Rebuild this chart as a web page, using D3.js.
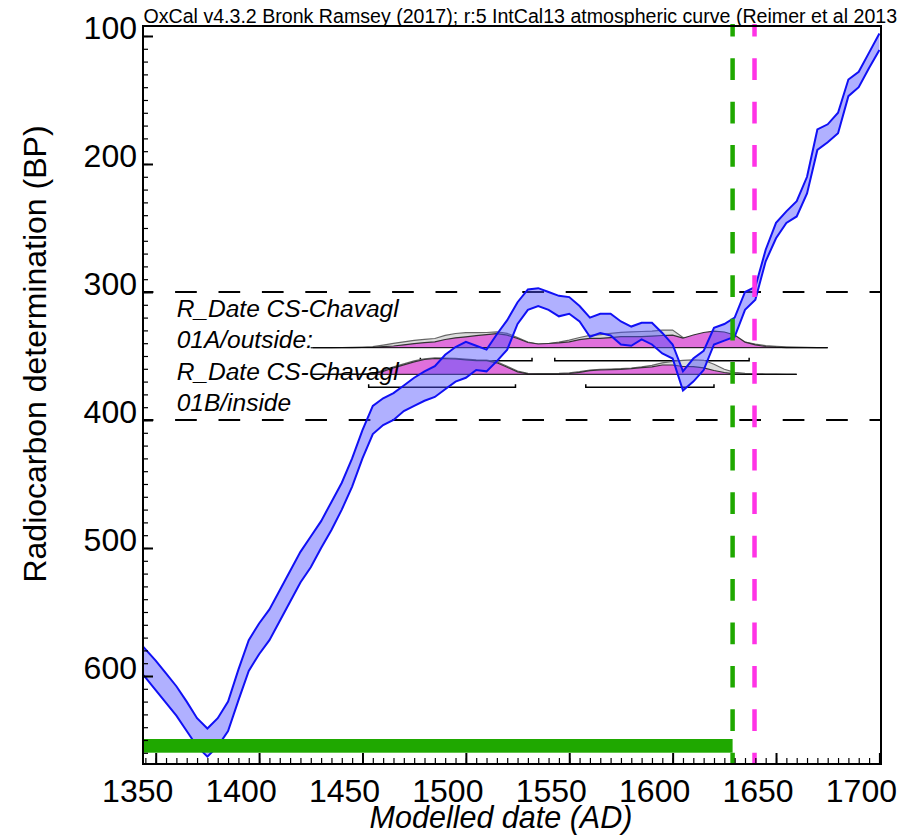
<!DOCTYPE html>
<html>
<head>
<meta charset="utf-8">
<script src="https://cdn.jsdelivr.net/npm/d3@7"></script>
<style>
  body { margin: 0; background: #fff; }
  text { font-family: "Liberation Sans", Arial, sans-serif; }
</style>
</head>
<body>
<div id="chart"></div>
<script>
// calibration curve (IntCal13), BP at 1-sigma edges
var curveYears = [1340, 1345, 1350, 1355, 1360, 1365, 1370, 1375, 1380, 1385, 1390, 1395, 1400,
  1405, 1410, 1415, 1420, 1425, 1430, 1435, 1440, 1445, 1450, 1455, 1460, 1465, 1470, 1475, 1480,
  1485, 1490, 1495, 1500, 1505, 1510, 1515, 1520, 1525, 1530, 1535, 1540, 1545, 1550, 1555, 1560,
  1565, 1570, 1575, 1580, 1585, 1590, 1595, 1600, 1605, 1610, 1615, 1620, 1625, 1630, 1635, 1640,
  1645, 1650, 1655, 1660, 1665, 1670, 1675, 1680, 1685, 1690, 1695, 1700];
var curveLow = [570, 579, 588, 598, 608, 620, 633, 641, 633, 620, 595, 572, 559,
  548, 533, 518, 503, 491, 479, 464, 449, 430, 408, 389, 383, 379, 373, 367, 362,
  358, 349, 343, 339, 342, 345, 333, 322, 308, 298, 297, 300, 303, 304, 311, 320,
  317, 317, 323, 327, 324, 324, 332, 341, 362, 352, 346, 328, 325, 320, 300, 296,
  267, 246, 237, 229, 210, 173, 169, 160, 134, 128, 113, 98];
var curveHigh = [592, 601, 611, 621, 631, 643, 655, 663, 655, 643, 619, 596, 583,
  572, 557, 542, 527, 515, 500, 486, 470, 452, 430, 411, 404, 400, 393, 389, 385,
  382, 376, 370, 367, 361, 362, 354, 345, 325, 314, 311, 314, 319, 317, 323, 335,
  332, 334, 341, 342, 337, 341, 348, 352, 377, 370, 361, 341, 338, 335, 314, 306,
  276, 258, 246, 241, 223, 189, 183, 176, 147, 140, 125, 111];

// probability distributions (relative probability)
var distYears = [1425, 1430, 1435, 1440, 1445, 1450, 1455, 1460, 1465, 1470, 1475, 1480,
  1485, 1490, 1495, 1500, 1505, 1510, 1515, 1520, 1525, 1530, 1535, 1540, 1545, 1550,
  1555, 1560, 1565, 1570, 1575, 1580, 1585, 1590, 1595, 1600, 1605, 1610, 1615, 1620,
  1625, 1630, 1635, 1640, 1645, 1650, 1655, 1660, 1665, 1670, 1675];
var probA = [0, 0.05, 0.1, 0.2, 0.4, 0.7, 1, 2.6, 4.4, 5.9, 7.4, 8.4,
  9.2, 12.3, 14.2, 15, 15, 15.2, 15.8, 14.3, 10.1, 5.7, 3.7, 4.2, 5.6, 7.5,
  10.2, 12.3, 13.1, 14.3, 15.4, 15.8, 16.2, 16.6, 17.6, 17.7, 10.2, 10.5, 11, 11,
  10.2, 8.8, 5.5, 3.5, 2, 1.3, 0.8, 0.5, 0.3, 0.15, 0];
var postA = [0, 0, 0, 0.1, 0.1, 0.2, 0.3, 1, 1.7, 2.9, 4.1, 5,
  5.9, 8.2, 9.9, 10.9, 12, 13, 14.1, 12.6, 9.2, 5.2, 3.7, 4.2, 4.9, 5.9,
  8, 9.4, 9.4, 10.1, 11, 11, 11.1, 11.6, 12.2, 12.5, 9.5, 12.7, 15.2, 16.5,
  15.7, 12.7, 5.6, 2.8, 1.2, 0.5, 0.1, 0, 0, 0, 0];
var probB = [0, 0, 0, 0, 0.1, 0.2, 0.8, 4, 7.5, 10.5, 13.5, 15.5,
  16.4, 16.3, 16, 15.2, 14.5, 14.2, 12.5, 8, 3.3, 1, 0.6, 0.6, 0.9, 1.5,
  2.6, 4.3, 5, 5.3, 5.6, 6.3, 7.5, 9, 11.5, 13, 14, 14.5, 14, 10,
  5, 2, 1, 0.5, 0.3, 0.15, 0.05, 0, 0, 0, 0];
var postB = [0, 0, 0, 0, 0, 0, 0.4, 3, 6.5, 9.5, 12.5, 14.8,
  15.8, 15.7, 15.3, 14.5, 13.6, 13.6, 11.5, 7, 2.4, 0.5, 0.3, 0.3, 0.4, 0.8,
  2, 3.6, 4.3, 4.6, 5, 5.6, 6.6, 7.5, 9.3, 9.3, 7.8, 7.6, 6.4, 3.8,
  1.8, 0.4, 0, 0, 0, 0, 0, 0, 0, 0, 0];

var dateNames = ["R_Date CS-Chavagl", "R_Date CS-Chavagl"];
var dateSubs = ["01A/outside:", "01B/inside"];
var dateSpan = [[1426, 1675], [1426, 1660]];
var rangesA = [[1478, 1532], [1543, 1637]];
var rangesB = [[1453, 1524], [1558, 1620]];

var greenDate = 1629;
var pinkDate = 1639.6;
var refLines = [300, 400];

var xTicks = [1350, 1400, 1450, 1500, 1550, 1600, 1650, 1700];
var yTicks = [100, 200, 300, 400, 500, 600];

var W = 922, H = 835;
var pLeft = 143, pRight = 881, pTop = 26, pBottom = 764;

var x = d3.scaleLinear().domain([1343.86, 1700.77]).range([pLeft, pRight]);
var y = d3.scaleLinear().domain([92.2, 668.75]).range([pTop, pBottom]);
var p = d3.scaleLinear().domain([0, 20]).range([0, 20]);

var svg = d3.select("#chart").append("svg")
    .attr("width", W)
    .attr("height", H);

svg.append("clipPath").attr("id", "plot")
  .append("rect")
    .attr("x", pLeft).attr("y", pTop)
    .attr("width", pRight - pLeft).attr("height", pBottom - pTop);

var g = svg.append("g").attr("clip-path", "url(#plot)");

// 300 / 400 reference lines
g.selectAll(".ref").data(refLines).enter().append("line")
    .attr("x1", pLeft).attr("x2", pRight)
    .attr("y1", d => y(d)).attr("y2", d => y(d))
    .attr("stroke", "#000")
    .attr("stroke-width", 2)
    .attr("stroke-dasharray", "21.7 21.7")
    .attr("stroke-dashoffset", 11.3);

// labels of the dates
var labY = [317.3, 380];
dateNames.forEach(function(n, i) {
  svg.append("text").attr("x", 176.7).attr("y", labY[i])
    .attr("font-size", "24.5px").attr("font-style", "italic").text(n);
  svg.append("text").attr("x", 176.7).attr("y", labY[i] + 31)
    .attr("font-size", "24.5px").attr("font-style", "italic").text(dateSubs[i]);
});

// distributions
function drawDist(base, prior, post, span, ranges) {
  var pts = distYears.map((d, i) => ({ yr: d, a: prior[i], b: post[i] }))
    .filter(d => d.yr <= span[1]);
  var aPrior = d3.area().x(d => x(d.yr)).y0(base).y1(d => base - p(d.a));
  var aPost = d3.area().x(d => x(d.yr)).y0(base).y1(d => base - p(d.b));
  var lPrior = d3.line().x(d => x(d.yr)).y(d => base - p(d.a));
  var lPost = d3.line().x(d => x(d.yr)).y(d => base - p(d.b));
  g.append("path").datum(pts).attr("d", aPrior).attr("fill", "#dcdcdc");
  g.append("path").datum(pts).attr("d", lPrior)
    .attr("fill", "none").attr("stroke", "#666").attr("stroke-width", 1.2);
  g.append("path").datum(pts).attr("d", aPost).attr("fill", "#e070dc");
  g.append("path").datum(pts).attr("d", lPost)
    .attr("fill", "none").attr("stroke", "#333").attr("stroke-width", 1.2);
  g.append("line")
    .attr("x1", x(span[0])).attr("x2", x(span[1]))
    .attr("y1", base).attr("y2", base)
    .attr("stroke", "#000").attr("stroke-width", 1);
  ranges.forEach(function(r) {
    var by = base + 13;
    g.append("path")
      .attr("d", "M" + x(r[0]) + "," + (by - 3) + "V" + by + "H" + x(r[1]) + "V" + (by - 3))
      .attr("fill", "none").attr("stroke", "#000").attr("stroke-width", 1.5);
  });
}
drawDist(347.7, probA, postA, dateSpan[0], rangesA);
drawDist(374.3, probB, postB, dateSpan[1], rangesB);

// calibration curve band
var curvePts = curveYears.map((d, i) => ({ yr: d, lo: curveLow[i], hi: curveHigh[i] }));
g.append("path").datum(curvePts)
    .attr("d", d3.area().x(d => x(d.yr)).y0(d => y(d.hi)).y1(d => y(d.lo)))
    .attr("fill", "rgba(80,80,255,0.45)");
["lo", "hi"].forEach(function(k) {
  g.append("path").datum(curvePts)
    .attr("d", d3.line().x(d => x(d.yr)).y(d => y(d[k])))
    .attr("fill", "none")
    .attr("stroke", "#1010f5")
    .attr("stroke-width", 2);
});

// green bar
svg.append("rect")
    .attr("x", pLeft).attr("y", 739)
    .attr("width", x(greenDate) - pLeft).attr("height", 13.7)
    .attr("fill", "#1fa800");

// vertical dashed markers
[[greenDate, "#1fa800"], [pinkDate, "#ff33e6"]].forEach(function(m) {
  svg.append("line")
    .attr("x1", x(m[0])).attr("x2", x(m[0]))
    .attr("y1", pBottom).attr("y2", 24)
    .attr("stroke", m[1])
    .attr("stroke-width", 4.5)
    .attr("stroke-dasharray", "21.7 21.7")
    .attr("stroke-dashoffset", 10.4);
});

// frame
svg.append("rect")
    .attr("x", pLeft).attr("y", pTop)
    .attr("width", pRight - pLeft).attr("height", pBottom - pTop)
    .attr("fill", "none").attr("stroke", "#000").attr("stroke-width", 2);

// ticks
var yMinor = [];
for (var v = 100; v <= 660; v += 10) yMinor.push(v);
var xMinor = [];
for (var t = 1345; t <= 1700; t += 5) xMinor.push(t);

svg.append("g").attr("transform", "translate(" + pLeft + ",0)")
    .call(d3.axisRight(y).tickValues(yMinor).tickSize(5).tickFormat(""))
    .call(a => a.select(".domain").remove())
    .call(a => a.selectAll("line").attr("stroke-width", 1.2));
svg.append("g").attr("transform", "translate(" + pLeft + ",0)")
    .call(d3.axisRight(y).tickValues(yTicks).tickSize(10).tickFormat(""))
    .call(a => a.select(".domain").remove())
    .call(a => a.selectAll("line").attr("stroke-width", 2));
svg.append("g").attr("transform", "translate(0," + pBottom + ")")
    .call(d3.axisTop(x).tickValues(xMinor).tickSize(6).tickFormat(""))
    .call(a => a.select(".domain").remove())
    .call(a => a.selectAll("line").attr("stroke-width", 1.2));
svg.append("g").attr("transform", "translate(0," + pBottom + ")")
    .call(d3.axisTop(x).tickValues(xTicks).tickSize(11).tickFormat(""))
    .call(a => a.select(".domain").remove())
    .call(a => a.selectAll("line").attr("stroke-width", 2));

// tick labels
svg.selectAll(".ylab").data(yTicks).enter().append("text")
    .attr("x", 137).attr("y", d => y(d) + 3)
    .attr("text-anchor", "end")
    .attr("font-size", "32px")
    .text(d => d);
svg.selectAll(".xlab").data(xTicks).enter().append("text")
    .attr("x", d => x(d) - 18).attr("y", 801.5)
    .attr("text-anchor", "middle")
    .attr("font-size", "32px")
    .text(d => d);

// titles
svg.append("text")
    .attr("x", 143.5).attr("y", 23)
    .attr("font-size", "19.6px")
    .text("OxCal v4.3.2 Bronk Ramsey (2017); r:5 IntCal13 atmospheric curve (Reimer et al 2013");
svg.append("text")
    .attr("transform", "translate(46,354) rotate(-90)")
    .attr("text-anchor", "middle")
    .attr("font-size", "32px")
    .text("Radiocarbon determination (BP)");
svg.append("text")
    .attr("x", 501).attr("y", 828)
    .attr("text-anchor", "middle")
    .attr("font-size", "30.5px")
    .attr("font-style", "italic")
    .text("Modelled date (AD)");
</script>
</body>
</html>
